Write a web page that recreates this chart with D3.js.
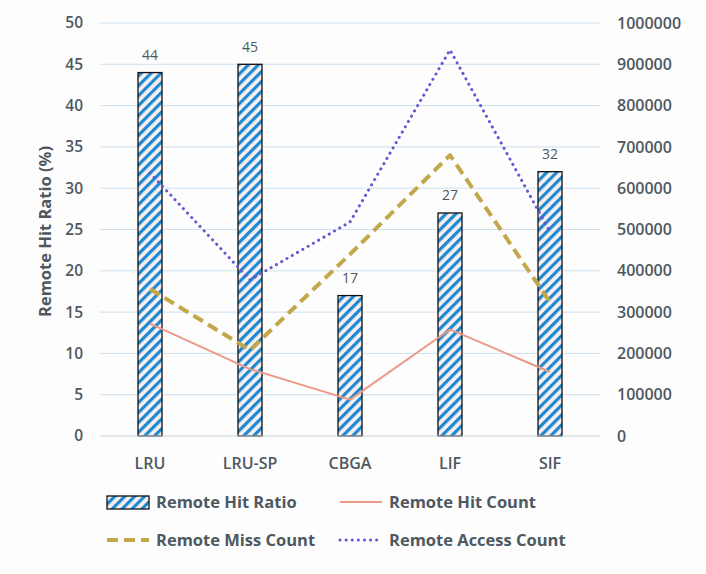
<!DOCTYPE html>
<html>
<head>
<meta charset="utf-8">
<script src="https://cdn.jsdelivr.net/npm/d3@7"></script>
<style>
  html, body { margin: 0; padding: 0; background: #ffffff; }
  svg { display: block; }
  text { font-family: "Open Sans", "Liberation Sans", sans-serif; }
</style>
</head>
<body>
<svg id="chart" width="706" height="574"></svg>
<script>
// Cache policies compared
const categories = ["LRU", "LRU-SP", "CBGA", "LIF", "SIF"];
// Remote hit ratio (%) per policy — bars on the left axis
const hitRatio = [44, 45, 17, 27, 32];
// Counts on the right axis
const hitCount = [272000, 162000, 88000, 258000, 155000];
const missCount = [356000, 208000, 440000, 680000, 324000];
const accessCount = [637000, 378000, 518000, 935000, 494000];
// Axis ticks
const leftTicks = [0, 5, 10, 15, 20, 25, 30, 35, 40, 45, 50];
const rightTicks = [0, 100000, 200000, 300000, 400000, 500000, 600000, 700000, 800000, 900000, 1000000];

const svg = d3.select("#chart");
const W = 706, H = 574;
const m = { left: 100, right: 106, top: 23, bottom: 138 };
const plotW = W - m.left - m.right;
const plotH = H - m.top - m.bottom;

const textColor = "#4d5860";

svg.append("rect").attr("width", W).attr("height", H).attr("fill", "#fdfdfd");

// Hatch pattern for the ratio bars
const defs = svg.append("defs");
const pat = defs.append("pattern")
  .attr("id", "hatch")
  .attr("patternUnits", "userSpaceOnUse")
  .attr("width", 7).attr("height", 7)
  .attr("patternTransform", "rotate(45)");
pat.append("rect").attr("width", 7).attr("height", 7).attr("fill", "#fbeeee");
pat.append("rect").attr("width", 3.2).attr("height", 7).attr("fill", "#1b8ad3");

const g = svg.append("g").attr("transform", `translate(${m.left},${m.top})`);

const x = d3.scaleBand().domain(categories).range([0, plotW]).paddingInner(0).paddingOuter(0);
const yL = d3.scaleLinear().domain([0, 50]).range([plotH, 0]);
const yR = d3.scaleLinear().domain([0, 1000000]).range([plotH, 0]);

// Horizontal gridlines
g.append("g")
  .selectAll("line")
  .data(leftTicks.filter(d => d > 0))
  .join("line")
  .attr("x1", 0).attr("x2", plotW)
  .attr("y1", d => yL(d)).attr("y2", d => yL(d))
  .attr("stroke", "#cde0ee").attr("stroke-width", 1);

// Left axis
const leftAxis = g.append("g")
  .call(d3.axisLeft(yL).tickValues(leftTicks).tickSize(0).tickPadding(17));
leftAxis.select(".domain").remove();
leftAxis.selectAll("text")
  .attr("fill", textColor).attr("font-size", 15.5).attr("font-weight", 600);

// Right axis
const rightAxis = g.append("g")
  .attr("transform", `translate(${plotW},0)`)
  .call(d3.axisRight(yR).tickValues(rightTicks).tickFormat(d3.format("d")).tickSize(0).tickPadding(17));
rightAxis.select(".domain").remove();
rightAxis.selectAll("text")
  .attr("fill", textColor).attr("font-size", 16).attr("font-weight", 600);

// Bars
const barW = 24;
g.append("g")
  .selectAll("rect")
  .data(categories)
  .join("rect")
  .attr("x", (d) => x(d) + x.bandwidth() / 2 - barW / 2)
  .attr("y", (d, i) => yL(hitRatio[i]))
  .attr("width", barW)
  .attr("height", (d, i) => plotH - yL(hitRatio[i]))
  .attr("fill", "url(#hatch)")
  .attr("stroke", "#111")
  .attr("stroke-width", 1.3);

// Bar value labels
g.append("g")
  .selectAll("text")
  .data(categories)
  .join("text")
  .attr("x", (d) => x(d) + x.bandwidth() / 2)
  .attr("y", (d, i) => yL(hitRatio[i]) - 12.5)
  .attr("text-anchor", "middle")
  .attr("font-size", 14)
  .attr("fill", textColor)
  .text((d, i) => hitRatio[i]);

// Baseline
g.append("line")
  .attr("x1", 0).attr("x2", plotW)
  .attr("y1", plotH).attr("y2", plotH)
  .attr("stroke", "#c9d3da").attr("stroke-width", 1.2);

// Category axis labels
const bottomAxis = g.append("g")
  .attr("transform", `translate(0,${plotH})`)
  .call(d3.axisBottom(x).tickSize(0).tickPadding(22));
bottomAxis.select(".domain").remove();
bottomAxis.selectAll("text")
  .attr("fill", textColor).attr("font-size", 16).attr("font-weight", 600);

// Count lines
const lineFor = (vals) => d3.line()
  .x((d, i) => x(categories[i]) + x.bandwidth() / 2)
  .y((d) => yR(d))(vals);

const series = [
  { name: "Remote Hit Count", vals: hitCount, color: "#ea9a86", width: 2, dash: null, cap: "butt" },
  { name: "Remote Miss Count", vals: missCount, color: "#c2a84a", width: 4, dash: "11,6", cap: "butt" },
  { name: "Remote Access Count", vals: accessCount, color: "#6a56d0", width: 3, dash: "0.1,6", cap: "round" }
];

series.forEach(s => {
  g.append("path")
    .attr("d", lineFor(s.vals))
    .attr("fill", "none")
    .attr("stroke", s.color)
    .attr("stroke-width", s.width)
    .attr("stroke-dasharray", s.dash)
    .attr("stroke-linecap", s.cap)
    .attr("stroke-linejoin", "round");
});

// Left axis title
svg.append("text")
  .attr("transform", `translate(45,${m.top + plotH / 2 + 2}) rotate(-90)`)
  .attr("text-anchor", "middle")
  .attr("dy", "0.35em")
  .attr("font-size", 16.5)
  .attr("font-weight", 700)
  .attr("fill", textColor)
  .text("Remote Hit Ratio (%)");

// Legend
const legend = svg.append("g");
const items = [
  { label: "Remote Hit Ratio", type: "bar", x: 107, y: 502 },
  { label: "Remote Hit Count", type: "line", s: series[0], x: 340, y: 502 },
  { label: "Remote Miss Count", type: "line", s: series[1], x: 107, y: 540 },
  { label: "Remote Access Count", type: "line", s: series[2], x: 340, y: 540 }
];
items.forEach(it => {
  const lg = legend.append("g").attr("transform", `translate(${it.x},${it.y})`);
  if (it.type === "bar") {
    lg.append("rect").attr("x", 0).attr("y", -6).attr("width", 42).attr("height", 13)
      .attr("fill", "url(#hatch)").attr("stroke", "#111").attr("stroke-width", 1.3);
  } else {
    lg.append("line").attr("x1", 0).attr("x2", 42).attr("y1", 0).attr("y2", 0)
      .attr("stroke", it.s.color).attr("stroke-width", it.s.width)
      .attr("stroke-dasharray", it.s.dash).attr("stroke-linecap", it.s.cap);
  }
  lg.append("text").attr("x", 49).attr("y", 0).attr("dy", "0.35em")
    .attr("font-size", 16.5).attr("font-weight", 700).attr("fill", textColor)
    .text(it.label);
});
</script>
</body>
</html>
